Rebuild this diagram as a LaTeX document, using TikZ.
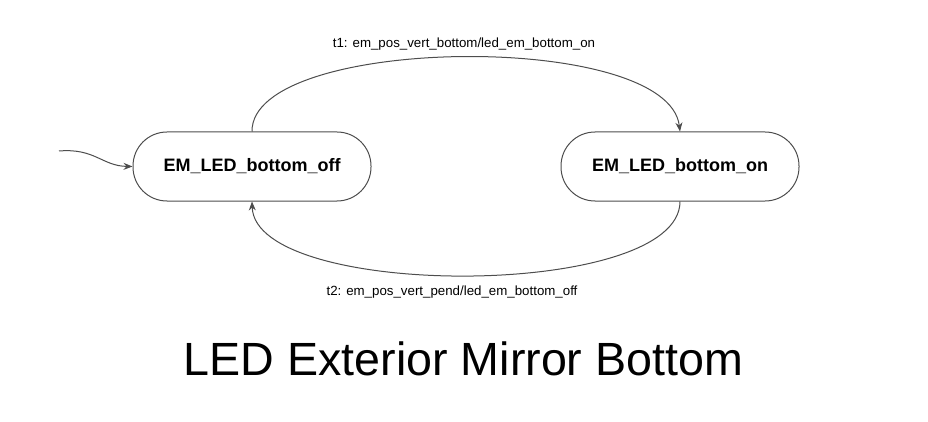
\documentclass[tikz,border=0pt]{standalone}
\usepackage{fontspec}
\setmainfont{Liberation Sans}
\usetikzlibrary{arrows.meta}
\definecolor{edgegray}{HTML}{4D4D4D}
\begin{document}
\begin{tikzpicture}[x=1pt,y=-1pt,
  statebox/.style={draw=edgegray, line width=1pt, rounded corners=34pt, minimum width=238pt, minimum height=69pt, inner sep=0pt, font=\fontsize{18}{21}\selectfont\bfseries},
  conn/.style={draw=edgegray, line width=1pt, -{Stealth[length=9pt,width=7pt,inset=3pt]}},
  lbl/.style={inner sep=0pt, font=\fontsize{13.3}{16}\selectfont}]
\useasboundingbox (0,0) rectangle (928,422);
\node[statebox] (off) at (252,166.5) {EM\_LED\_bottom\_off};
\node[statebox] (on) at (680,166.5) {EM\_LED\_bottom\_on};
\coordinate (init) at (59,151);
\draw[conn] (init) .. controls (95,148) and (102,166) .. (off.west);
\draw[conn] (off.north) .. controls (251,35) and (668,30) .. (on.north);
\draw[conn] (on.south) .. controls (680,300) and (255,300) .. (off.south);
\node[lbl] (t1) at (464,44) {t1: em\_pos\_vert\_bottom/led\_em\_bottom\_on};
\node[lbl] (t2) at (452,292) {t2: em\_pos\_vert\_pend/led\_em\_bottom\_off};
\node[inner sep=0pt, font=\fontsize{46.6}{52}\selectfont, anchor=base] (title) at (463.5,375) {LED Exterior Mirror Bottom};
\end{tikzpicture}
\end{document}
